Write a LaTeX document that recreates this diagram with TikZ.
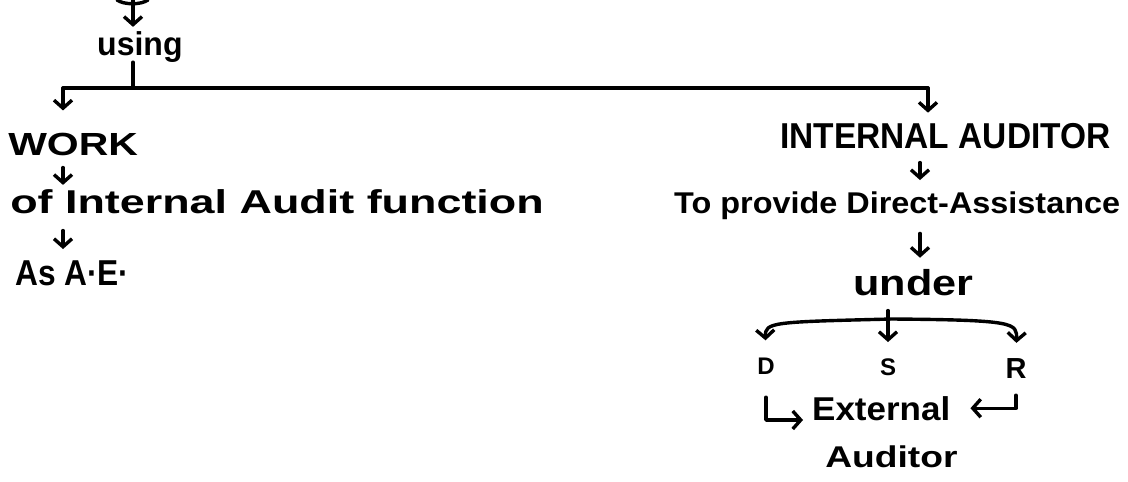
\documentclass[tikz,border=0pt]{standalone}
\usepackage{fontspec}
\setmainfont{Liberation Sans}
\usetikzlibrary{arrows.meta}
\begin{document}
\begin{tikzpicture}[x=1pt,y=-1pt,
  ink/.style={line width=3.4pt, line cap=round, line join=round},
  arr/.style={ink, -{Straight Barb[length=8pt,width=18pt]}},
  lbl/.style={inner sep=0pt, anchor=base west},
  ctr/.style={inner sep=0pt, anchor=base},
]
\fill[white] (0,0) rectangle (1128,482);
\useasboundingbox (0,0) rectangle (1128,482);

% text nodes
\node[lbl, font=\bfseries\fontsize{33}{36}\selectfont, xscale=0.97] (using) at (97,55) {using};
\node[lbl, font=\bfseries\fontsize{32}{36}\selectfont, xscale=1.28] (work) at (8,155) {WORK};
\node[lbl, font=\bfseries\fontsize{33}{36}\selectfont, xscale=1.36] (ofint) at (10,213) {of Internal Audit function};
\node[lbl, font=\bfseries\fontsize{36}{40}\selectfont, xscale=0.88] (asae) at (15,285) {As A·E·};
\node[lbl, font=\bfseries\fontsize{36}{40}\selectfont, xscale=0.93] (intaud) at (780,148) {INTERNAL AUDITOR};
\node[lbl, font=\bfseries\fontsize{30}{34}\selectfont, xscale=1.08] (provide) at (674,213) {To provide Direct-Assistance};
\node[lbl, font=\bfseries\fontsize{36}{40}\selectfont, xscale=1.2] (under) at (853,295) {under};
\node[ctr, font=\bfseries\fontsize{24}{28}\selectfont] (D) at (766,374) {D};
\node[ctr, font=\bfseries\fontsize{24}{28}\selectfont] (S) at (888,375) {S};
\node[ctr, font=\bfseries\fontsize{29}{32}\selectfont] (R) at (1016,378) {R};
\node[lbl, font=\bfseries\fontsize{33}{36}\selectfont, xscale=1.06] (ext) at (812,420) {External};
\node[lbl, font=\bfseries\fontsize{30}{34}\selectfont, xscale=1.24] (aud) at (825,467) {Auditor};

% helper coordinates
\coordinate (topc) at (133,0);
\coordinate (split) at (133,88);
\coordinate (hl) at (63,88);
\coordinate (hr) at (928,88);
\coordinate (rx) at (920,100);
\coordinate (bm) at (892,319);

% partial shape at the top edge
\draw[ink] (117,0) .. controls (124,5) and (141,5) .. (148,0);

% connectors
\draw[arr, shorten >=4pt] (topc) -- (topc |- using.north);
\draw[ink] (split |- using.south) -- (split);
\draw[ink] (hl) -- (hr);
\draw[arr, shorten >=22pt] (hl) -- (hl |- work.north);
\draw[arr, shorten <=12pt, shorten >=4pt] (hl |- work.south) -- (hl |- ofint.north);
\draw[arr, shorten <=17pt, shorten >=11pt] (hl |- ofint.south) -- (hl |- asae.north);

\draw[arr, shorten >=10pt] (hr) -- (hr |- intaud.north);
\draw[arr, shorten <=14pt, shorten >=11pt] (rx |- intaud.south) -- (rx |- provide.north);
\draw[arr, shorten <=14pt, shorten >=11pt] (rx |- provide.south) -- (rx |- under.north);

\draw[arr, shorten <=15pt, shorten >=16pt] (S.north |- under.south) -- (S.north);
\draw[ink, {Straight Barb[length=8pt,width=18pt]}-{Straight Barb[length=8pt,width=18pt]}, shorten <=17pt, shorten >=15pt]
  (D.north) .. controls (765,322) and (772,322) .. (bm) .. controls (1016,320) and (1017,323) .. (R.north);

\draw[arr, shorten <=23pt, shorten >=9pt] (D.south) |- (ext.base west);
\draw[arr, shorten <=17pt, shorten >=20pt] (R.south) |- (ext.east);
\end{tikzpicture}
\end{document}
